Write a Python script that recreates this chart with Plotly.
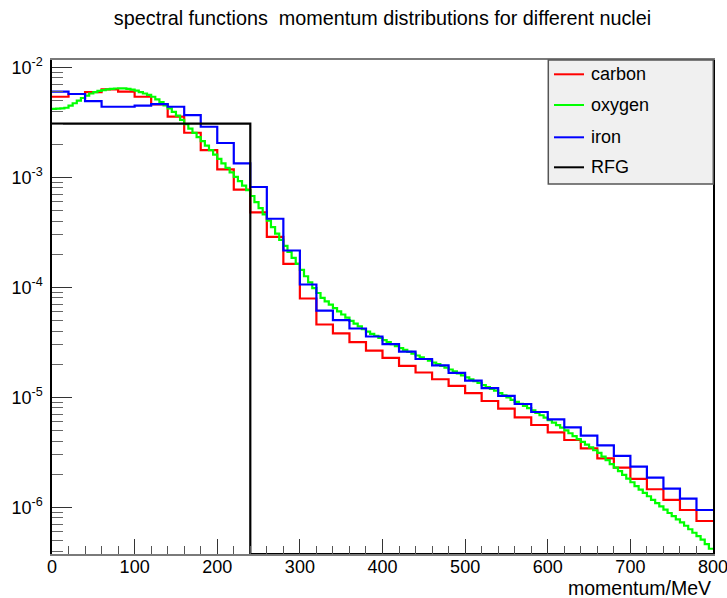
import plotly.graph_objects as go

# ---------------- data ----------------
title_text = "spectral functions  momentum distributions for different nuclei"
x_title = "momentum/MeV"
series_names = ["carbon", "oxygen", "iron", "RFG"]
series_colors = ["#ff0000", "#00ff00", "#0000ff", "#000000"]

coarse_edges = list(range(0, 801, 20))   # 40 bins of 20 MeV
fine_edges = list(range(0, 801, 5))      # 160 bins of 5 MeV

carbon = [5.40e-3, 5.72e-3, 5.96e-3, 6.31e-3, 6.00e-3, 5.40e-3, 4.61e-3, 3.56e-3, 2.54e-3, 1.77e-3,
          1.18e-3, 7.74e-4, 4.79e-4, 2.87e-4, 1.63e-4, 7.91e-5, 4.59e-5, 3.82e-5, 3.18e-5, 2.66e-5,
          2.28e-5, 1.93e-5, 1.68e-5, 1.46e-5, 1.27e-5, 1.09e-5, 9.26e-6, 7.88e-6, 6.58e-6, 5.60e-6,
          4.79e-6, 4.09e-6, 3.44e-6, 2.79e-6, 2.29e-6, 1.81e-6, 1.46e-6, 1.17e-6, 9.45e-7, 7.51e-7]

iron = [6.00e-3, 5.72e-3, 4.92e-3, 4.38e-3, 4.38e-3, 4.48e-3, 4.62e-3, 4.38e-3, 3.68e-3, 2.88e-3,
        2.05e-3, 1.34e-3, 8.16e-4, 4.20e-4, 2.16e-4, 1.06e-4, 6.13e-5, 5.04e-5, 4.22e-5, 3.57e-5,
        3.05e-5, 2.60e-5, 2.23e-5, 1.95e-5, 1.67e-5, 1.42e-5, 1.21e-5, 1.03e-5, 8.69e-6, 7.35e-6,
        6.31e-6, 5.34e-6, 4.49e-6, 3.66e-6, 2.93e-6, 2.34e-6, 1.86e-6, 1.48e-6, 1.20e-6, 9.45e-7]

oxygen = [4.19e-3, 4.21e-3, 4.23e-3, 4.29e-3, 4.49e-3, 4.71e-3, 4.97e-3, 5.26e-3, 5.53e-3, 5.78e-3,
          5.96e-3, 6.11e-3, 6.20e-3, 6.30e-3, 6.36e-3, 6.42e-3, 6.44e-3, 6.44e-3, 6.36e-3, 6.27e-3,
          6.13e-3, 5.96e-3, 5.78e-3, 5.61e-3, 5.40e-3, 5.12e-3, 4.82e-3, 4.51e-3, 4.23e-3, 3.93e-3,
          3.64e-3, 3.33e-3, 3.05e-3, 2.77e-3, 2.53e-3, 2.32e-3, 2.13e-3, 1.94e-3, 1.77e-3, 1.61e-3,
          1.47e-3, 1.34e-3, 1.22e-3, 1.11e-3, 1.01e-3, 9.24e-4, 8.41e-4, 7.66e-4, 6.76e-4, 5.95e-4,
          5.24e-4, 4.60e-4, 4.03e-4, 3.53e-4, 3.08e-4, 2.70e-4, 2.38e-4, 2.10e-4, 1.85e-4, 1.63e-4,
          1.44e-4, 1.26e-4, 1.11e-4, 9.82e-5, 8.88e-5, 8.03e-5, 7.46e-5, 6.95e-5, 6.48e-5, 6.05e-5,
          5.66e-5, 5.29e-5, 4.96e-5, 4.68e-5, 4.42e-5, 4.17e-5, 3.96e-5, 3.78e-5, 3.62e-5, 3.46e-5,
          3.31e-5, 3.18e-5, 3.05e-5, 2.92e-5, 2.80e-5, 2.70e-5, 2.59e-5, 2.49e-5, 2.40e-5, 2.31e-5,
          2.23e-5, 2.15e-5, 2.07e-5, 2.00e-5, 1.93e-5, 1.86e-5, 1.79e-5, 1.72e-5, 1.65e-5, 1.58e-5,
          1.52e-5, 1.46e-5, 1.40e-5, 1.35e-5, 1.29e-5, 1.24e-5, 1.19e-5, 1.15e-5, 1.09e-5, 1.04e-5,
          9.96e-6, 9.49e-6, 9.08e-6, 8.71e-6, 8.34e-6, 7.98e-6, 7.60e-6, 7.23e-6, 6.87e-6, 6.54e-6,
          6.21e-6, 5.89e-6, 5.59e-6, 5.30e-6, 5.01e-6, 4.71e-6, 4.43e-6, 4.17e-6, 3.93e-6, 3.71e-6,
          3.50e-6, 3.30e-6, 3.12e-6, 2.89e-6, 2.68e-6, 2.47e-6, 2.29e-6, 2.13e-6, 1.97e-6, 1.82e-6,
          1.69e-6, 1.56e-6, 1.45e-6, 1.35e-6, 1.26e-6, 1.17e-6, 1.09e-6, 1.02e-6, 9.53e-7, 8.88e-7,
          8.30e-7, 7.78e-7, 7.28e-7, 6.80e-7, 6.32e-7, 5.87e-7, 5.46e-7, 5.08e-7, 4.63e-7, 4.20e-7]

rfg_edges = [0, 240, 800]
rfg_values = [3.07e-3, 0.0]

x_tick_vals = [0, 100, 200, 300, 400, 500, 600, 700, 800]
x_tick_text = ["0", "100", "200", "300", "400", "500", "600", "700", "800"]
y_tick_vals = [1e-6, 1e-5, 1e-4, 1e-3, 1e-2]
y_tick_text = ["10<sup>-6</sup>", "10<sup>-5</sup>", "10<sup>-4</sup>", "10<sup>-3</sup>", "10<sup>-2</sup>"]

# ---------------- figure ----------------
X_RANGE = [0, 800]
Y_LOG_RANGE = [-6.4245, -1.9336]
Y_FLOOR = 10 ** Y_LOG_RANGE[0]
FONT = "Liberation Sans, Arial, Helvetica, sans-serif"


def step_xy(edges, vals):
    ys = [v if v > 0 else Y_FLOOR for v in vals]
    return list(edges), ys + [ys[-1]]


fig = go.Figure()
for name, color, edges, vals in [
    (series_names[0], series_colors[0], coarse_edges, carbon),
    (series_names[1], series_colors[1], fine_edges, oxygen),
    (series_names[2], series_colors[2], coarse_edges, iron),
    (series_names[3], series_colors[3], rfg_edges, rfg_values),
]:
    xs, ys = step_xy(edges, vals)
    fig.add_trace(go.Scatter(x=xs, y=ys, mode="lines", name=name, line_shape="hv",
                             line=dict(color=color, width=2.2), showlegend=False,
                             cliponaxis=True))

minor_y = [m * 10 ** e for e in range(-7, -1) for m in range(2, 10)]

fig.update_layout(
    width=727, height=598,
    margin=dict(l=52, r=14, t=60, b=44, autoexpand=False),
    paper_bgcolor="white", plot_bgcolor="white",
    font=dict(family=FONT, size=18, color="black"),
    title=dict(text=title_text, x=0.5, xref="paper", xanchor="center",
               y=1 - 18 / 598, yref="container", yanchor="middle",
               font=dict(family=FONT, size=19.8, color="black")),
    xaxis=dict(range=X_RANGE, showgrid=False, zeroline=False, automargin=False,
               showline=True, linecolor="#7a7a7a", linewidth=2, mirror=True,
               ticks="inside", ticklen=15, tickcolor="#333", tickwidth=1,
               tickmode="array", tickvals=x_tick_vals, ticktext=x_tick_text,
               tickfont=dict(size=18), ticklabelstandoff=-5, ticklabeloverflow="allow",
               minor=dict(ticks="inside", ticklen=8, tickcolor="#555", dtick=20, showgrid=False)),
    yaxis=dict(type="log", range=Y_LOG_RANGE, showgrid=False, zeroline=False, automargin=False,
               showline=True, linecolor="#000", linewidth=1.5, mirror=True,
               ticks="inside", ticklen=20, tickcolor="#333", tickwidth=1,
               tickmode="array", tickvals=y_tick_vals, ticktext=y_tick_text,
               tickfont=dict(size=18), ticklabelstandoff=4, ticklabeloverflow="allow",
               minor=dict(ticks="inside", ticklen=11, tickcolor="#666",
                          tickmode="array", tickvals=minor_y, showgrid=False)),
)

# axis title (right-aligned under the axis, ROOT style)
fig.add_annotation(text=x_title, xref="paper", yref="paper", x=1.0, y=-(588 - 554) / 494,
                   xanchor="right", yanchor="middle", showarrow=False,
                   font=dict(family=FONT, size=19.5, color="black"))

# ---------------- legend box (ROOT TLegend look) ----------------
PW, PH = 661.0, 494.0


def px_x(p):
    return (p - 52) / PW


def px_y(p):
    return (554 - p) / PH


fig.add_shape(type="rect", xref="paper", yref="paper",
              x0=px_x(548.3), x1=px_x(713.3), y0=px_y(184), y1=px_y(60),
              fillcolor="#f0f0f0", line=dict(color="#555", width=1.5), layer="above")
legend_rows = [74.3, 105.0, 137.3, 167.3]
for name, color, row in zip(series_names, series_colors, legend_rows):
    fig.add_shape(type="line", xref="paper", yref="paper",
                  x0=px_x(554), x1=px_x(584), y0=px_y(row), y1=px_y(row),
                  line=dict(color=color, width=2), layer="above")
    fig.add_annotation(text=name, xref="paper", yref="paper", x=px_x(589), y=px_y(row),
                       xanchor="left", yanchor="middle", showarrow=False,
                       font=dict(family=FONT, size=18, color="black"))

fig.write_html("out.html", config={"displayModeBar": False},
               post_script="document.body.style.margin='0';document.body.style.padding='0';")
